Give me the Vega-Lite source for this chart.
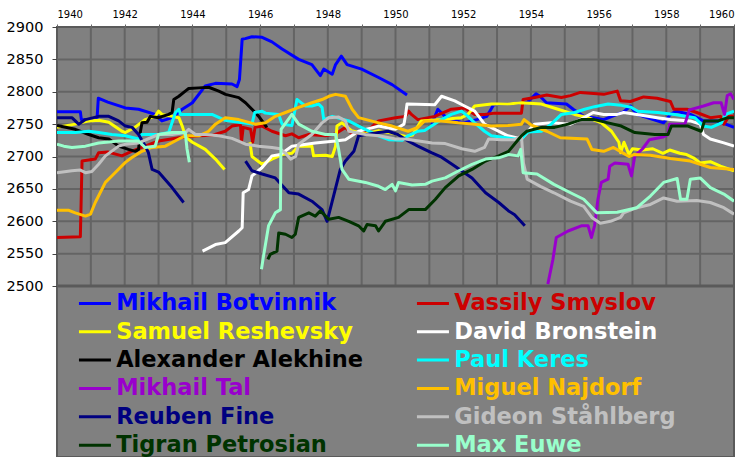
{
"$schema":"https://vega.github.io/schema/vega-lite/v6.json",
"width":677,"height":430,
"autosize":{"type":"pad"},
"padding":{"left":6,"top":9,"right":5,"bottom":0},
"background":"white",
"config":{"view":{"fill":"#808080","stroke":"#5a5a5a","strokeWidth":2},"font":"DejaVu Sans"},
"resolve":{"axis":{"x":"independent","y":"independent"}},
"layer":[
{"mark":{"type":"rect","color":"#808080","stroke":"#5a5a5a","strokeWidth":2},
 "encoding":{
  "x":{"datum":1940,"scale":{"domain":[1940,1960],"nice":false,"zero":false},"axis":null},"x2":{"datum":1960},
  "y":{"datum":2236,"scale":{"domain":[2236,2900],"nice":false,"zero":false},"axis":null},"y2":{"datum":2900}}},
{"data":{"values":[{"yr":1941},{"yr":1942},{"yr":1943},{"yr":1944},{"yr":1945},{"yr":1946},{"yr":1947},{"yr":1948},{"yr":1949},{"yr":1950},{"yr":1951},{"yr":1952},{"yr":1953},{"yr":1954},{"yr":1955},{"yr":1956},{"yr":1957},{"yr":1958},{"yr":1959}]},
 "mark":{"type":"rule","color":"#646464","strokeWidth":2},
 "encoding":{
  "x":{"field":"yr","type":"quantitative","axis":null},
  "y":{"datum":2500,"axis":null},
  "y2":{"datum":2900}}},
{"data":{"values":[{"g":2550},{"g":2600},{"g":2650},{"g":2700},{"g":2750},{"g":2800},{"g":2850}]},
 "mark":{"type":"rule","color":"#646464","strokeWidth":2},
 "encoding":{"y":{"field":"g","type":"quantitative","axis":null}}},
{"data":{"values":[{"v":2500}]},
 "mark":{"type":"rule","color":"#5a5a5a","strokeWidth":3},
 "encoding":{"y":{"field":"v","type":"quantitative","axis":null}}},
{"data":{"values":[
{"p":"Mikhail Botvinnik","s":1,"t":1940.0,"r":2769},{"p":"Mikhail Botvinnik","s":1,"t":1940.69,"r":2769},{"p":"Mikhail Botvinnik","s":1,"t":1940.72,"r":2757},{"p":"Mikhail Botvinnik","s":1,"t":1941.18,"r":2756},{"p":"Mikhail Botvinnik","s":1,"t":1941.22,"r":2790},{"p":"Mikhail Botvinnik","s":1,"t":1941.5,"r":2784},{"p":"Mikhail Botvinnik","s":1,"t":1942.02,"r":2775},{"p":"Mikhail Botvinnik","s":1,"t":1942.41,"r":2773},{"p":"Mikhail Botvinnik","s":1,"t":1942.9,"r":2765},{"p":"Mikhail Botvinnik","s":1,"t":1943.1,"r":2755},{"p":"Mikhail Botvinnik","s":1,"t":1943.4,"r":2760},{"p":"Mikhail Botvinnik","s":1,"t":1943.7,"r":2773},{"p":"Mikhail Botvinnik","s":1,"t":1944.0,"r":2783},{"p":"Mikhail Botvinnik","s":1,"t":1944.38,"r":2809},{"p":"Mikhail Botvinnik","s":1,"t":1944.68,"r":2813},{"p":"Mikhail Botvinnik","s":1,"t":1945.17,"r":2812},{"p":"Mikhail Botvinnik","s":1,"t":1945.32,"r":2808},{"p":"Mikhail Botvinnik","s":1,"t":1945.39,"r":2819},{"p":"Mikhail Botvinnik","s":1,"t":1945.47,"r":2881},{"p":"Mikhail Botvinnik","s":1,"t":1945.56,"r":2882},{"p":"Mikhail Botvinnik","s":1,"t":1945.76,"r":2885},{"p":"Mikhail Botvinnik","s":1,"t":1946.06,"r":2884},{"p":"Mikhail Botvinnik","s":1,"t":1946.35,"r":2877},{"p":"Mikhail Botvinnik","s":1,"t":1946.65,"r":2866},{"p":"Mikhail Botvinnik","s":1,"t":1947.14,"r":2850},{"p":"Mikhail Botvinnik","s":1,"t":1947.53,"r":2842},{"p":"Mikhail Botvinnik","s":1,"t":1947.78,"r":2825},{"p":"Mikhail Botvinnik","s":1,"t":1947.88,"r":2835},{"p":"Mikhail Botvinnik","s":1,"t":1948.13,"r":2827},{"p":"Mikhail Botvinnik","s":1,"t":1948.23,"r":2842},{"p":"Mikhail Botvinnik","s":1,"t":1948.4,"r":2855},{"p":"Mikhail Botvinnik","s":1,"t":1948.57,"r":2842},{"p":"Mikhail Botvinnik","s":1,"t":1949.0,"r":2835},{"p":"Mikhail Botvinnik","s":1,"t":1949.5,"r":2822},{"p":"Mikhail Botvinnik","s":1,"t":1949.9,"r":2811},{"p":"Mikhail Botvinnik","s":1,"t":1950.34,"r":2795},
{"p":"Mikhail Botvinnik","s":2,"t":1951.07,"r":2750},{"p":"Mikhail Botvinnik","s":2,"t":1951.25,"r":2773},{"p":"Mikhail Botvinnik","s":2,"t":1951.5,"r":2760},{"p":"Mikhail Botvinnik","s":2,"t":1952.0,"r":2752},{"p":"Mikhail Botvinnik","s":2,"t":1952.4,"r":2757},{"p":"Mikhail Botvinnik","s":2,"t":1952.7,"r":2762},{"p":"Mikhail Botvinnik","s":2,"t":1952.9,"r":2780},{"p":"Mikhail Botvinnik","s":2,"t":1953.5,"r":2782},{"p":"Mikhail Botvinnik","s":2,"t":1953.9,"r":2784},{"p":"Mikhail Botvinnik","s":2,"t":1954.15,"r":2797},{"p":"Mikhail Botvinnik","s":2,"t":1954.27,"r":2793},{"p":"Mikhail Botvinnik","s":2,"t":1954.46,"r":2783},{"p":"Mikhail Botvinnik","s":2,"t":1955.05,"r":2781},{"p":"Mikhail Botvinnik","s":2,"t":1955.25,"r":2773},{"p":"Mikhail Botvinnik","s":2,"t":1955.59,"r":2761},{"p":"Mikhail Botvinnik","s":2,"t":1955.84,"r":2760},{"p":"Mikhail Botvinnik","s":2,"t":1956.15,"r":2757},{"p":"Mikhail Botvinnik","s":2,"t":1956.74,"r":2769},{"p":"Mikhail Botvinnik","s":2,"t":1956.94,"r":2778},{"p":"Mikhail Botvinnik","s":2,"t":1957.13,"r":2765},{"p":"Mikhail Botvinnik","s":2,"t":1957.92,"r":2752},{"p":"Mikhail Botvinnik","s":2,"t":1958.12,"r":2765},{"p":"Mikhail Botvinnik","s":2,"t":1958.3,"r":2770},{"p":"Mikhail Botvinnik","s":2,"t":1958.71,"r":2765},{"p":"Mikhail Botvinnik","s":2,"t":1959.1,"r":2755},{"p":"Mikhail Botvinnik","s":2,"t":1959.5,"r":2755},{"p":"Mikhail Botvinnik","s":2,"t":1960.0,"r":2745},
{"p":"Vassily Smyslov","s":1,"t":1940.0,"r":2575},{"p":"Vassily Smyslov","s":1,"t":1940.69,"r":2576},{"p":"Vassily Smyslov","s":1,"t":1940.74,"r":2693},{"p":"Vassily Smyslov","s":1,"t":1941.13,"r":2696},{"p":"Vassily Smyslov","s":1,"t":1941.23,"r":2706},{"p":"Vassily Smyslov","s":1,"t":1941.5,"r":2707},{"p":"Vassily Smyslov","s":1,"t":1941.92,"r":2701},{"p":"Vassily Smyslov","s":1,"t":1942.2,"r":2708},{"p":"Vassily Smyslov","s":1,"t":1942.6,"r":2716},{"p":"Vassily Smyslov","s":1,"t":1943.0,"r":2724},{"p":"Vassily Smyslov","s":1,"t":1943.6,"r":2729},{"p":"Vassily Smyslov","s":1,"t":1944.2,"r":2732},{"p":"Vassily Smyslov","s":1,"t":1944.6,"r":2733},{"p":"Vassily Smyslov","s":1,"t":1944.97,"r":2739},{"p":"Vassily Smyslov","s":1,"t":1945.17,"r":2747},{"p":"Vassily Smyslov","s":1,"t":1945.42,"r":2749},{"p":"Vassily Smyslov","s":1,"t":1945.45,"r":2722},{"p":"Vassily Smyslov","s":1,"t":1945.5,"r":2745},{"p":"Vassily Smyslov","s":1,"t":1945.72,"r":2742},{"p":"Vassily Smyslov","s":1,"t":1945.78,"r":2722},{"p":"Vassily Smyslov","s":1,"t":1945.85,"r":2745},{"p":"Vassily Smyslov","s":1,"t":1946.06,"r":2747},{"p":"Vassily Smyslov","s":1,"t":1946.35,"r":2739},{"p":"Vassily Smyslov","s":1,"t":1946.75,"r":2732},{"p":"Vassily Smyslov","s":1,"t":1946.94,"r":2735},{"p":"Vassily Smyslov","s":1,"t":1947.14,"r":2729},{"p":"Vassily Smyslov","s":1,"t":1947.44,"r":2734},{"p":"Vassily Smyslov","s":1,"t":1947.93,"r":2732},{"p":"Vassily Smyslov","s":1,"t":1948.23,"r":2735},{"p":"Vassily Smyslov","s":1,"t":1948.52,"r":2745},{"p":"Vassily Smyslov","s":1,"t":1948.72,"r":2735},{"p":"Vassily Smyslov","s":1,"t":1949.11,"r":2737},{"p":"Vassily Smyslov","s":1,"t":1949.5,"r":2755},{"p":"Vassily Smyslov","s":1,"t":1950.0,"r":2760},{"p":"Vassily Smyslov","s":1,"t":1950.29,"r":2762},{"p":"Vassily Smyslov","s":1,"t":1950.39,"r":2770},{"p":"Vassily Smyslov","s":1,"t":1950.47,"r":2765},{"p":"Vassily Smyslov","s":1,"t":1950.66,"r":2757},{"p":"Vassily Smyslov","s":1,"t":1951.16,"r":2762},{"p":"Vassily Smyslov","s":1,"t":1951.65,"r":2773},{"p":"Vassily Smyslov","s":1,"t":1952.04,"r":2775},{"p":"Vassily Smyslov","s":1,"t":1952.34,"r":2765},{"p":"Vassily Smyslov","s":1,"t":1952.63,"r":2765},{"p":"Vassily Smyslov","s":1,"t":1952.93,"r":2767},{"p":"Vassily Smyslov","s":1,"t":1953.72,"r":2767},{"p":"Vassily Smyslov","s":1,"t":1953.77,"r":2788},{"p":"Vassily Smyslov","s":1,"t":1954.11,"r":2791},{"p":"Vassily Smyslov","s":1,"t":1954.47,"r":2795},{"p":"Vassily Smyslov","s":1,"t":1954.9,"r":2791},{"p":"Vassily Smyslov","s":1,"t":1955.17,"r":2794},{"p":"Vassily Smyslov","s":1,"t":1955.46,"r":2799},{"p":"Vassily Smyslov","s":1,"t":1956.15,"r":2796},{"p":"Vassily Smyslov","s":1,"t":1956.55,"r":2801},{"p":"Vassily Smyslov","s":1,"t":1956.65,"r":2786},{"p":"Vassily Smyslov","s":1,"t":1956.94,"r":2785},{"p":"Vassily Smyslov","s":1,"t":1957.33,"r":2792},{"p":"Vassily Smyslov","s":1,"t":1957.73,"r":2790},{"p":"Vassily Smyslov","s":1,"t":1958.12,"r":2785},{"p":"Vassily Smyslov","s":1,"t":1958.22,"r":2773},{"p":"Vassily Smyslov","s":1,"t":1958.61,"r":2773},{"p":"Vassily Smyslov","s":1,"t":1958.9,"r":2768},{"p":"Vassily Smyslov","s":1,"t":1959.3,"r":2760},{"p":"Vassily Smyslov","s":1,"t":1959.6,"r":2762},{"p":"Vassily Smyslov","s":1,"t":1959.7,"r":2750},{"p":"Vassily Smyslov","s":1,"t":1959.85,"r":2762},{"p":"Vassily Smyslov","s":1,"t":1960.0,"r":2762},
{"p":"Samuel Reshevsky","s":1,"t":1940.0,"r":2745},{"p":"Samuel Reshevsky","s":1,"t":1940.54,"r":2750},{"p":"Samuel Reshevsky","s":1,"t":1940.94,"r":2755},{"p":"Samuel Reshevsky","s":1,"t":1941.23,"r":2756},{"p":"Samuel Reshevsky","s":1,"t":1941.53,"r":2753},{"p":"Samuel Reshevsky","s":1,"t":1941.92,"r":2739},{"p":"Samuel Reshevsky","s":1,"t":1942.02,"r":2737},{"p":"Samuel Reshevsky","s":1,"t":1942.3,"r":2745},{"p":"Samuel Reshevsky","s":1,"t":1942.6,"r":2757},{"p":"Samuel Reshevsky","s":1,"t":1942.9,"r":2762},{"p":"Samuel Reshevsky","s":1,"t":1943.0,"r":2770},{"p":"Samuel Reshevsky","s":1,"t":1943.1,"r":2765},{"p":"Samuel Reshevsky","s":1,"t":1943.4,"r":2762},{"p":"Samuel Reshevsky","s":1,"t":1943.6,"r":2760},{"p":"Samuel Reshevsky","s":1,"t":1943.7,"r":2747},{"p":"Samuel Reshevsky","s":1,"t":1943.8,"r":2730},{"p":"Samuel Reshevsky","s":1,"t":1944.0,"r":2722},{"p":"Samuel Reshevsky","s":1,"t":1944.38,"r":2711},{"p":"Samuel Reshevsky","s":1,"t":1944.68,"r":2696},{"p":"Samuel Reshevsky","s":1,"t":1944.95,"r":2680},
{"p":"Samuel Reshevsky","s":2,"t":1945.7,"r":2722},{"p":"Samuel Reshevsky","s":2,"t":1945.76,"r":2700},{"p":"Samuel Reshevsky","s":2,"t":1946.06,"r":2688},{"p":"Samuel Reshevsky","s":2,"t":1946.35,"r":2696},{"p":"Samuel Reshevsky","s":2,"t":1946.65,"r":2703},{"p":"Samuel Reshevsky","s":2,"t":1946.94,"r":2705},{"p":"Samuel Reshevsky","s":2,"t":1947.14,"r":2716},{"p":"Samuel Reshevsky","s":2,"t":1947.53,"r":2716},{"p":"Samuel Reshevsky","s":2,"t":1947.58,"r":2701},{"p":"Samuel Reshevsky","s":2,"t":1947.93,"r":2702},{"p":"Samuel Reshevsky","s":2,"t":1948.13,"r":2700},{"p":"Samuel Reshevsky","s":2,"t":1948.23,"r":2716},{"p":"Samuel Reshevsky","s":2,"t":1948.27,"r":2747},{"p":"Samuel Reshevsky","s":2,"t":1948.42,"r":2752},{"p":"Samuel Reshevsky","s":2,"t":1948.7,"r":2740},{"p":"Samuel Reshevsky","s":2,"t":1949.1,"r":2735},{"p":"Samuel Reshevsky","s":2,"t":1949.5,"r":2740},{"p":"Samuel Reshevsky","s":2,"t":1950.0,"r":2735},{"p":"Samuel Reshevsky","s":2,"t":1950.3,"r":2731},{"p":"Samuel Reshevsky","s":2,"t":1950.5,"r":2733},{"p":"Samuel Reshevsky","s":2,"t":1950.76,"r":2755},{"p":"Samuel Reshevsky","s":2,"t":1951.36,"r":2757},{"p":"Samuel Reshevsky","s":2,"t":1951.95,"r":2760},{"p":"Samuel Reshevsky","s":2,"t":1952.14,"r":2765},{"p":"Samuel Reshevsky","s":2,"t":1952.34,"r":2778},{"p":"Samuel Reshevsky","s":2,"t":1952.83,"r":2781},{"p":"Samuel Reshevsky","s":2,"t":1953.32,"r":2781},{"p":"Samuel Reshevsky","s":2,"t":1953.72,"r":2783},{"p":"Samuel Reshevsky","s":2,"t":1954.31,"r":2781},{"p":"Samuel Reshevsky","s":2,"t":1954.8,"r":2773},{"p":"Samuel Reshevsky","s":2,"t":1955.29,"r":2765},{"p":"Samuel Reshevsky","s":2,"t":1955.69,"r":2760},{"p":"Samuel Reshevsky","s":2,"t":1956.08,"r":2752},{"p":"Samuel Reshevsky","s":2,"t":1956.38,"r":2739},{"p":"Samuel Reshevsky","s":2,"t":1956.6,"r":2722},{"p":"Samuel Reshevsky","s":2,"t":1956.65,"r":2706},{"p":"Samuel Reshevsky","s":2,"t":1956.75,"r":2722},{"p":"Samuel Reshevsky","s":2,"t":1956.9,"r":2703},{"p":"Samuel Reshevsky","s":2,"t":1957.0,"r":2712},{"p":"Samuel Reshevsky","s":2,"t":1957.3,"r":2710},{"p":"Samuel Reshevsky","s":2,"t":1957.6,"r":2712},{"p":"Samuel Reshevsky","s":2,"t":1957.9,"r":2705},{"p":"Samuel Reshevsky","s":2,"t":1958.1,"r":2710},{"p":"Samuel Reshevsky","s":2,"t":1958.4,"r":2705},{"p":"Samuel Reshevsky","s":2,"t":1958.6,"r":2703},{"p":"Samuel Reshevsky","s":2,"t":1958.8,"r":2698},{"p":"Samuel Reshevsky","s":2,"t":1959.0,"r":2690},{"p":"Samuel Reshevsky","s":2,"t":1959.3,"r":2692},{"p":"Samuel Reshevsky","s":2,"t":1959.6,"r":2685},{"p":"Samuel Reshevsky","s":2,"t":1960.0,"r":2678},
{"p":"David Bronstein","s":1,"t":1944.3,"r":2554},{"p":"David Bronstein","s":1,"t":1944.68,"r":2564},{"p":"David Bronstein","s":1,"t":1944.97,"r":2567},{"p":"David Bronstein","s":1,"t":1945.37,"r":2585},{"p":"David Bronstein","s":1,"t":1945.47,"r":2590},{"p":"David Bronstein","s":1,"t":1945.5,"r":2644},{"p":"David Bronstein","s":1,"t":1945.66,"r":2649},{"p":"David Bronstein","s":1,"t":1945.76,"r":2670},{"p":"David Bronstein","s":1,"t":1946.06,"r":2683},{"p":"David Bronstein","s":1,"t":1946.35,"r":2701},{"p":"David Bronstein","s":1,"t":1946.6,"r":2703},{"p":"David Bronstein","s":1,"t":1946.94,"r":2716},{"p":"David Bronstein","s":1,"t":1947.63,"r":2721},{"p":"David Bronstein","s":1,"t":1948.23,"r":2724},{"p":"David Bronstein","s":1,"t":1948.52,"r":2726},{"p":"David Bronstein","s":1,"t":1948.91,"r":2739},{"p":"David Bronstein","s":1,"t":1949.5,"r":2747},{"p":"David Bronstein","s":1,"t":1950.0,"r":2742},{"p":"David Bronstein","s":1,"t":1950.25,"r":2750},{"p":"David Bronstein","s":1,"t":1950.3,"r":2765},{"p":"David Bronstein","s":1,"t":1950.34,"r":2781},{"p":"David Bronstein","s":1,"t":1951.16,"r":2780},{"p":"David Bronstein","s":1,"t":1951.36,"r":2793},{"p":"David Bronstein","s":1,"t":1951.75,"r":2786},{"p":"David Bronstein","s":1,"t":1952.04,"r":2778},{"p":"David Bronstein","s":1,"t":1952.34,"r":2770},{"p":"David Bronstein","s":1,"t":1952.63,"r":2750},{"p":"David Bronstein","s":1,"t":1953.32,"r":2732},{"p":"David Bronstein","s":1,"t":1953.72,"r":2727},{"p":"David Bronstein","s":1,"t":1953.9,"r":2738},{"p":"David Bronstein","s":1,"t":1954.1,"r":2750},{"p":"David Bronstein","s":1,"t":1954.6,"r":2752},{"p":"David Bronstein","s":1,"t":1955.17,"r":2750},{"p":"David Bronstein","s":1,"t":1955.46,"r":2757},{"p":"David Bronstein","s":1,"t":1955.84,"r":2768},{"p":"David Bronstein","s":1,"t":1956.15,"r":2765},{"p":"David Bronstein","s":1,"t":1956.55,"r":2765},{"p":"David Bronstein","s":1,"t":1956.74,"r":2768},{"p":"David Bronstein","s":1,"t":1957.13,"r":2765},{"p":"David Bronstein","s":1,"t":1957.73,"r":2760},{"p":"David Bronstein","s":1,"t":1958.12,"r":2757},{"p":"David Bronstein","s":1,"t":1958.71,"r":2755},{"p":"David Bronstein","s":1,"t":1959.0,"r":2750},{"p":"David Bronstein","s":1,"t":1959.1,"r":2734},{"p":"David Bronstein","s":1,"t":1959.3,"r":2727},{"p":"David Bronstein","s":1,"t":1959.7,"r":2721},{"p":"David Bronstein","s":1,"t":1960.0,"r":2716},
{"p":"Alexander Alekhine","s":1,"t":1940.0,"r":2748},{"p":"Alexander Alekhine","s":1,"t":1940.54,"r":2742},{"p":"Alexander Alekhine","s":1,"t":1940.94,"r":2734},{"p":"Alexander Alekhine","s":1,"t":1941.23,"r":2729},{"p":"Alexander Alekhine","s":1,"t":1941.53,"r":2727},{"p":"Alexander Alekhine","s":1,"t":1941.82,"r":2716},{"p":"Alexander Alekhine","s":1,"t":1942.11,"r":2711},{"p":"Alexander Alekhine","s":1,"t":1942.31,"r":2708},{"p":"Alexander Alekhine","s":1,"t":1942.41,"r":2711},{"p":"Alexander Alekhine","s":1,"t":1942.46,"r":2737},{"p":"Alexander Alekhine","s":1,"t":1942.51,"r":2752},{"p":"Alexander Alekhine","s":1,"t":1942.66,"r":2753},{"p":"Alexander Alekhine","s":1,"t":1942.76,"r":2762},{"p":"Alexander Alekhine","s":1,"t":1943.0,"r":2760},{"p":"Alexander Alekhine","s":1,"t":1943.3,"r":2765},{"p":"Alexander Alekhine","s":1,"t":1943.4,"r":2768},{"p":"Alexander Alekhine","s":1,"t":1943.45,"r":2788},{"p":"Alexander Alekhine","s":1,"t":1943.6,"r":2793},{"p":"Alexander Alekhine","s":1,"t":1943.79,"r":2801},{"p":"Alexander Alekhine","s":1,"t":1943.89,"r":2805},{"p":"Alexander Alekhine","s":1,"t":1944.19,"r":2806},{"p":"Alexander Alekhine","s":1,"t":1944.48,"r":2807},{"p":"Alexander Alekhine","s":1,"t":1944.78,"r":2801},{"p":"Alexander Alekhine","s":1,"t":1944.98,"r":2796},{"p":"Alexander Alekhine","s":1,"t":1945.37,"r":2791},{"p":"Alexander Alekhine","s":1,"t":1945.57,"r":2783},{"p":"Alexander Alekhine","s":1,"t":1945.76,"r":2773},{"p":"Alexander Alekhine","s":1,"t":1945.96,"r":2762},{"p":"Alexander Alekhine","s":1,"t":1946.2,"r":2745},
{"p":"Paul Keres","s":1,"t":1940.0,"r":2737},{"p":"Paul Keres","s":1,"t":1940.54,"r":2737},{"p":"Paul Keres","s":1,"t":1940.94,"r":2739},{"p":"Paul Keres","s":1,"t":1941.23,"r":2737},{"p":"Paul Keres","s":1,"t":1941.62,"r":2734},{"p":"Paul Keres","s":1,"t":1942.02,"r":2732},{"p":"Paul Keres","s":1,"t":1942.41,"r":2727},{"p":"Paul Keres","s":1,"t":1942.5,"r":2734},{"p":"Paul Keres","s":1,"t":1943.0,"r":2734},{"p":"Paul Keres","s":1,"t":1943.3,"r":2737},{"p":"Paul Keres","s":1,"t":1943.5,"r":2768},{"p":"Paul Keres","s":1,"t":1943.6,"r":2773},{"p":"Paul Keres","s":1,"t":1943.65,"r":2765},{"p":"Paul Keres","s":1,"t":1943.99,"r":2765},{"p":"Paul Keres","s":1,"t":1944.58,"r":2765},{"p":"Paul Keres","s":1,"t":1944.97,"r":2756},{"p":"Paul Keres","s":1,"t":1945.37,"r":2753},{"p":"Paul Keres","s":1,"t":1945.76,"r":2750},{"p":"Paul Keres","s":1,"t":1945.84,"r":2768},{"p":"Paul Keres","s":1,"t":1946.06,"r":2770},{"p":"Paul Keres","s":1,"t":1946.16,"r":2767},{"p":"Paul Keres","s":1,"t":1946.55,"r":2765},{"p":"Paul Keres","s":1,"t":1946.65,"r":2750},{"p":"Paul Keres","s":1,"t":1946.94,"r":2748},{"p":"Paul Keres","s":1,"t":1947.09,"r":2788},{"p":"Paul Keres","s":1,"t":1947.19,"r":2784},{"p":"Paul Keres","s":1,"t":1947.34,"r":2778},{"p":"Paul Keres","s":1,"t":1947.53,"r":2778},{"p":"Paul Keres","s":1,"t":1947.73,"r":2781},{"p":"Paul Keres","s":1,"t":1947.83,"r":2776},{"p":"Paul Keres","s":1,"t":1947.88,"r":2757},{"p":"Paul Keres","s":1,"t":1948.13,"r":2762},{"p":"Paul Keres","s":1,"t":1948.62,"r":2755},{"p":"Paul Keres","s":1,"t":1948.91,"r":2747},{"p":"Paul Keres","s":1,"t":1949.5,"r":2732},{"p":"Paul Keres","s":1,"t":1949.8,"r":2726},{"p":"Paul Keres","s":1,"t":1950.2,"r":2725},{"p":"Paul Keres","s":1,"t":1950.37,"r":2732},{"p":"Paul Keres","s":1,"t":1950.66,"r":2739},{"p":"Paul Keres","s":1,"t":1950.86,"r":2740},{"p":"Paul Keres","s":1,"t":1951.36,"r":2757},{"p":"Paul Keres","s":1,"t":1951.65,"r":2765},{"p":"Paul Keres","s":1,"t":1951.95,"r":2770},{"p":"Paul Keres","s":1,"t":1952.14,"r":2762},{"p":"Paul Keres","s":1,"t":1952.34,"r":2752},{"p":"Paul Keres","s":1,"t":1952.63,"r":2739},{"p":"Paul Keres","s":1,"t":1952.83,"r":2732},{"p":"Paul Keres","s":1,"t":1953.52,"r":2727},{"p":"Paul Keres","s":1,"t":1953.72,"r":2727},{"p":"Paul Keres","s":1,"t":1953.91,"r":2738},{"p":"Paul Keres","s":1,"t":1954.31,"r":2739},{"p":"Paul Keres","s":1,"t":1954.6,"r":2750},{"p":"Paul Keres","s":1,"t":1954.9,"r":2765},{"p":"Paul Keres","s":1,"t":1955.29,"r":2768},{"p":"Paul Keres","s":1,"t":1955.59,"r":2773},{"p":"Paul Keres","s":1,"t":1955.88,"r":2777},{"p":"Paul Keres","s":1,"t":1956.28,"r":2781},{"p":"Paul Keres","s":1,"t":1956.67,"r":2779},{"p":"Paul Keres","s":1,"t":1956.96,"r":2776},{"p":"Paul Keres","s":1,"t":1957.16,"r":2770},{"p":"Paul Keres","s":1,"t":1957.75,"r":2768},{"p":"Paul Keres","s":1,"t":1958.25,"r":2765},{"p":"Paul Keres","s":1,"t":1958.84,"r":2760},{"p":"Paul Keres","s":1,"t":1959.09,"r":2747},{"p":"Paul Keres","s":1,"t":1959.33,"r":2745},{"p":"Paul Keres","s":1,"t":1959.63,"r":2752},{"p":"Paul Keres","s":1,"t":1959.75,"r":2765},{"p":"Paul Keres","s":1,"t":1960.0,"r":2770},
{"p":"Mikhail Tal","s":1,"t":1954.5,"r":2503},{"p":"Mikhail Tal","s":1,"t":1954.65,"r":2541},{"p":"Mikhail Tal","s":1,"t":1954.75,"r":2575},{"p":"Mikhail Tal","s":1,"t":1955.1,"r":2585},{"p":"Mikhail Tal","s":1,"t":1955.49,"r":2593},{"p":"Mikhail Tal","s":1,"t":1955.69,"r":2593},{"p":"Mikhail Tal","s":1,"t":1955.79,"r":2575},{"p":"Mikhail Tal","s":1,"t":1955.88,"r":2593},{"p":"Mikhail Tal","s":1,"t":1955.93,"r":2613},{"p":"Mikhail Tal","s":1,"t":1955.98,"r":2634},{"p":"Mikhail Tal","s":1,"t":1956.08,"r":2660},{"p":"Mikhail Tal","s":1,"t":1956.28,"r":2665},{"p":"Mikhail Tal","s":1,"t":1956.33,"r":2685},{"p":"Mikhail Tal","s":1,"t":1956.48,"r":2690},{"p":"Mikhail Tal","s":1,"t":1956.87,"r":2688},{"p":"Mikhail Tal","s":1,"t":1956.97,"r":2670},{"p":"Mikhail Tal","s":1,"t":1957.07,"r":2701},{"p":"Mikhail Tal","s":1,"t":1957.3,"r":2712},{"p":"Mikhail Tal","s":1,"t":1957.5,"r":2726},{"p":"Mikhail Tal","s":1,"t":1957.9,"r":2730},{"p":"Mikhail Tal","s":1,"t":1958.05,"r":2734},{"p":"Mikhail Tal","s":1,"t":1958.1,"r":2750},{"p":"Mikhail Tal","s":1,"t":1958.55,"r":2750},{"p":"Mikhail Tal","s":1,"t":1958.68,"r":2772},{"p":"Mikhail Tal","s":1,"t":1959.1,"r":2778},{"p":"Mikhail Tal","s":1,"t":1959.4,"r":2783},{"p":"Mikhail Tal","s":1,"t":1959.62,"r":2783},{"p":"Mikhail Tal","s":1,"t":1959.72,"r":2765},{"p":"Mikhail Tal","s":1,"t":1959.8,"r":2794},{"p":"Mikhail Tal","s":1,"t":1959.9,"r":2797},{"p":"Mikhail Tal","s":1,"t":1960.0,"r":2788},
{"p":"Miguel Najdorf","s":1,"t":1940.0,"r":2617},{"p":"Miguel Najdorf","s":1,"t":1940.35,"r":2617},{"p":"Miguel Najdorf","s":1,"t":1940.54,"r":2613},{"p":"Miguel Najdorf","s":1,"t":1940.84,"r":2608},{"p":"Miguel Najdorf","s":1,"t":1940.99,"r":2611},{"p":"Miguel Najdorf","s":1,"t":1941.13,"r":2629},{"p":"Miguel Najdorf","s":1,"t":1941.43,"r":2660},{"p":"Miguel Najdorf","s":1,"t":1941.62,"r":2670},{"p":"Miguel Najdorf","s":1,"t":1942.02,"r":2691},{"p":"Miguel Najdorf","s":1,"t":1942.2,"r":2698},{"p":"Miguel Najdorf","s":1,"t":1942.51,"r":2708},{"p":"Miguel Najdorf","s":1,"t":1942.8,"r":2714},{"p":"Miguel Najdorf","s":1,"t":1943.2,"r":2716},{"p":"Miguel Najdorf","s":1,"t":1943.6,"r":2727},{"p":"Miguel Najdorf","s":1,"t":1943.79,"r":2732},{"p":"Miguel Najdorf","s":1,"t":1944.19,"r":2732},{"p":"Miguel Najdorf","s":1,"t":1944.48,"r":2739},{"p":"Miguel Najdorf","s":1,"t":1944.68,"r":2750},{"p":"Miguel Najdorf","s":1,"t":1944.97,"r":2760},{"p":"Miguel Najdorf","s":1,"t":1945.37,"r":2757},{"p":"Miguel Najdorf","s":1,"t":1945.86,"r":2750},{"p":"Miguel Najdorf","s":1,"t":1946.16,"r":2752},{"p":"Miguel Najdorf","s":1,"t":1946.45,"r":2762},{"p":"Miguel Najdorf","s":1,"t":1946.75,"r":2768},{"p":"Miguel Najdorf","s":1,"t":1947.14,"r":2776},{"p":"Miguel Najdorf","s":1,"t":1947.53,"r":2783},{"p":"Miguel Najdorf","s":1,"t":1947.83,"r":2788},{"p":"Miguel Najdorf","s":1,"t":1948.03,"r":2793},{"p":"Miguel Najdorf","s":1,"t":1948.23,"r":2796},{"p":"Miguel Najdorf","s":1,"t":1948.52,"r":2793},{"p":"Miguel Najdorf","s":1,"t":1948.72,"r":2773},{"p":"Miguel Najdorf","s":1,"t":1948.91,"r":2760},{"p":"Miguel Najdorf","s":1,"t":1949.5,"r":2752},{"p":"Miguel Najdorf","s":1,"t":1949.9,"r":2747},{"p":"Miguel Najdorf","s":1,"t":1950.37,"r":2739},{"p":"Miguel Najdorf","s":1,"t":1950.66,"r":2745},{"p":"Miguel Najdorf","s":1,"t":1950.86,"r":2755},{"p":"Miguel Najdorf","s":1,"t":1951.36,"r":2755},{"p":"Miguel Najdorf","s":1,"t":1951.85,"r":2752},{"p":"Miguel Najdorf","s":1,"t":1952.34,"r":2750},{"p":"Miguel Najdorf","s":1,"t":1952.83,"r":2747},{"p":"Miguel Najdorf","s":1,"t":1953.32,"r":2748},{"p":"Miguel Najdorf","s":1,"t":1953.72,"r":2750},{"p":"Miguel Najdorf","s":1,"t":1953.8,"r":2757},{"p":"Miguel Najdorf","s":1,"t":1954.0,"r":2749},{"p":"Miguel Najdorf","s":1,"t":1954.47,"r":2739},{"p":"Miguel Najdorf","s":1,"t":1954.87,"r":2729},{"p":"Miguel Najdorf","s":1,"t":1955.66,"r":2727},{"p":"Miguel Najdorf","s":1,"t":1955.8,"r":2711},{"p":"Miguel Najdorf","s":1,"t":1956.15,"r":2708},{"p":"Miguel Najdorf","s":1,"t":1956.44,"r":2714},{"p":"Miguel Najdorf","s":1,"t":1956.7,"r":2706},{"p":"Miguel Najdorf","s":1,"t":1956.9,"r":2700},{"p":"Miguel Najdorf","s":1,"t":1957.04,"r":2703},{"p":"Miguel Najdorf","s":1,"t":1957.53,"r":2702},{"p":"Miguel Najdorf","s":1,"t":1958.12,"r":2697},{"p":"Miguel Najdorf","s":1,"t":1958.71,"r":2693},{"p":"Miguel Najdorf","s":1,"t":1959.0,"r":2688},{"p":"Miguel Najdorf","s":1,"t":1959.3,"r":2683},{"p":"Miguel Najdorf","s":1,"t":1960.0,"r":2680},
{"p":"Reuben Fine","s":1,"t":1940.0,"r":2760},{"p":"Reuben Fine","s":1,"t":1940.44,"r":2760},{"p":"Reuben Fine","s":1,"t":1940.64,"r":2750},{"p":"Reuben Fine","s":1,"t":1940.84,"r":2757},{"p":"Reuben Fine","s":1,"t":1941.23,"r":2762},{"p":"Reuben Fine","s":1,"t":1941.53,"r":2762},{"p":"Reuben Fine","s":1,"t":1941.82,"r":2755},{"p":"Reuben Fine","s":1,"t":1942.02,"r":2747},{"p":"Reuben Fine","s":1,"t":1942.22,"r":2745},{"p":"Reuben Fine","s":1,"t":1942.41,"r":2734},{"p":"Reuben Fine","s":1,"t":1942.61,"r":2716},{"p":"Reuben Fine","s":1,"t":1942.7,"r":2706},{"p":"Reuben Fine","s":1,"t":1942.81,"r":2680},{"p":"Reuben Fine","s":1,"t":1943.0,"r":2676},{"p":"Reuben Fine","s":1,"t":1943.4,"r":2652},{"p":"Reuben Fine","s":1,"t":1943.74,"r":2629},
{"p":"Reuben Fine","s":2,"t":1945.57,"r":2693},{"p":"Reuben Fine","s":2,"t":1945.76,"r":2678},{"p":"Reuben Fine","s":2,"t":1946.06,"r":2673},{"p":"Reuben Fine","s":2,"t":1946.45,"r":2667},{"p":"Reuben Fine","s":2,"t":1946.85,"r":2644},{"p":"Reuben Fine","s":2,"t":1947.14,"r":2642},{"p":"Reuben Fine","s":2,"t":1947.53,"r":2631},{"p":"Reuben Fine","s":2,"t":1947.83,"r":2618},{"p":"Reuben Fine","s":2,"t":1947.98,"r":2600},{"p":"Reuben Fine","s":2,"t":1948.37,"r":2680},{"p":"Reuben Fine","s":2,"t":1948.52,"r":2693},{"p":"Reuben Fine","s":2,"t":1948.77,"r":2708},{"p":"Reuben Fine","s":2,"t":1948.91,"r":2732},{"p":"Reuben Fine","s":2,"t":1949.5,"r":2737},{"p":"Reuben Fine","s":2,"t":1949.78,"r":2739},{"p":"Reuben Fine","s":2,"t":1950.07,"r":2734},{"p":"Reuben Fine","s":2,"t":1950.37,"r":2724},{"p":"Reuben Fine","s":2,"t":1950.66,"r":2716},{"p":"Reuben Fine","s":2,"t":1951.06,"r":2706},{"p":"Reuben Fine","s":2,"t":1951.36,"r":2699},{"p":"Reuben Fine","s":2,"t":1951.67,"r":2688},{"p":"Reuben Fine","s":2,"t":1952.26,"r":2667},{"p":"Reuben Fine","s":2,"t":1952.66,"r":2644},{"p":"Reuben Fine","s":2,"t":1953.05,"r":2629},{"p":"Reuben Fine","s":2,"t":1953.34,"r":2616},{"p":"Reuben Fine","s":2,"t":1953.52,"r":2610},{"p":"Reuben Fine","s":2,"t":1953.82,"r":2593},
{"p":"Gideon Ståhlberg","s":1,"t":1940.0,"r":2675},{"p":"Gideon Ståhlberg","s":1,"t":1940.44,"r":2678},{"p":"Gideon Ståhlberg","s":1,"t":1940.69,"r":2679},{"p":"Gideon Ståhlberg","s":1,"t":1940.84,"r":2675},{"p":"Gideon Ståhlberg","s":1,"t":1941.03,"r":2677},{"p":"Gideon Ståhlberg","s":1,"t":1941.23,"r":2688},{"p":"Gideon Ståhlberg","s":1,"t":1941.43,"r":2701},{"p":"Gideon Ståhlberg","s":1,"t":1941.82,"r":2716},{"p":"Gideon Ståhlberg","s":1,"t":1942.02,"r":2719},{"p":"Gideon Ståhlberg","s":1,"t":1942.41,"r":2721},{"p":"Gideon Ståhlberg","s":1,"t":1943.0,"r":2734},{"p":"Gideon Ståhlberg","s":1,"t":1943.4,"r":2734},{"p":"Gideon Ståhlberg","s":1,"t":1943.79,"r":2737},{"p":"Gideon Ståhlberg","s":1,"t":1943.89,"r":2742},{"p":"Gideon Ståhlberg","s":1,"t":1944.09,"r":2734},{"p":"Gideon Ståhlberg","s":1,"t":1944.38,"r":2734},{"p":"Gideon Ståhlberg","s":1,"t":1944.78,"r":2732},{"p":"Gideon Ståhlberg","s":1,"t":1945.17,"r":2728},{"p":"Gideon Ståhlberg","s":1,"t":1945.57,"r":2719},{"p":"Gideon Ståhlberg","s":1,"t":1945.96,"r":2716},{"p":"Gideon Ståhlberg","s":1,"t":1946.35,"r":2714},{"p":"Gideon Ståhlberg","s":1,"t":1946.6,"r":2712},{"p":"Gideon Ståhlberg","s":1,"t":1946.75,"r":2705},{"p":"Gideon Ståhlberg","s":1,"t":1946.9,"r":2696},{"p":"Gideon Ståhlberg","s":1,"t":1947.05,"r":2700},{"p":"Gideon Ståhlberg","s":1,"t":1947.14,"r":2719},{"p":"Gideon Ståhlberg","s":1,"t":1947.53,"r":2734},{"p":"Gideon Ståhlberg","s":1,"t":1947.83,"r":2752},{"p":"Gideon Ståhlberg","s":1,"t":1948.03,"r":2760},{"p":"Gideon Ståhlberg","s":1,"t":1948.32,"r":2761},{"p":"Gideon Ståhlberg","s":1,"t":1948.52,"r":2755},{"p":"Gideon Ståhlberg","s":1,"t":1948.62,"r":2739},{"p":"Gideon Ståhlberg","s":1,"t":1949.11,"r":2734},{"p":"Gideon Ståhlberg","s":1,"t":1949.5,"r":2732},{"p":"Gideon Ståhlberg","s":1,"t":1950.0,"r":2727},{"p":"Gideon Ståhlberg","s":1,"t":1950.29,"r":2727},{"p":"Gideon Ståhlberg","s":1,"t":1950.69,"r":2724},{"p":"Gideon Ståhlberg","s":1,"t":1951.08,"r":2721},{"p":"Gideon Ståhlberg","s":1,"t":1951.47,"r":2720},{"p":"Gideon Ståhlberg","s":1,"t":1951.96,"r":2712},{"p":"Gideon Ståhlberg","s":1,"t":1952.34,"r":2708},{"p":"Gideon Ståhlberg","s":1,"t":1952.63,"r":2714},{"p":"Gideon Ståhlberg","s":1,"t":1952.75,"r":2727},{"p":"Gideon Ståhlberg","s":1,"t":1953.13,"r":2726},{"p":"Gideon Ståhlberg","s":1,"t":1953.52,"r":2726},{"p":"Gideon Ståhlberg","s":1,"t":1953.72,"r":2732},{"p":"Gideon Ståhlberg","s":1,"t":1953.78,"r":2690},{"p":"Gideon Ståhlberg","s":1,"t":1953.89,"r":2665},{"p":"Gideon Ståhlberg","s":1,"t":1954.28,"r":2654},{"p":"Gideon Ståhlberg","s":1,"t":1954.68,"r":2644},{"p":"Gideon Ståhlberg","s":1,"t":1955.17,"r":2631},{"p":"Gideon Ståhlberg","s":1,"t":1955.56,"r":2623},{"p":"Gideon Ståhlberg","s":1,"t":1955.8,"r":2606},{"p":"Gideon Ståhlberg","s":1,"t":1956.05,"r":2597},{"p":"Gideon Ståhlberg","s":1,"t":1956.35,"r":2600},{"p":"Gideon Ståhlberg","s":1,"t":1956.65,"r":2606},{"p":"Gideon Ståhlberg","s":1,"t":1956.74,"r":2613},{"p":"Gideon Ståhlberg","s":1,"t":1957.13,"r":2621},{"p":"Gideon Ståhlberg","s":1,"t":1957.53,"r":2626},{"p":"Gideon Ståhlberg","s":1,"t":1957.92,"r":2636},{"p":"Gideon Ståhlberg","s":1,"t":1958.32,"r":2631},{"p":"Gideon Ståhlberg","s":1,"t":1958.9,"r":2632},{"p":"Gideon Ståhlberg","s":1,"t":1959.3,"r":2629},{"p":"Gideon Ståhlberg","s":1,"t":1959.7,"r":2621},{"p":"Gideon Ståhlberg","s":1,"t":1960.0,"r":2611},
{"p":"Tigran Petrosian","s":1,"t":1946.23,"r":2541},{"p":"Tigran Petrosian","s":1,"t":1946.3,"r":2549},{"p":"Tigran Petrosian","s":1,"t":1946.5,"r":2554},{"p":"Tigran Petrosian","s":1,"t":1946.55,"r":2582},{"p":"Tigran Petrosian","s":1,"t":1946.75,"r":2580},{"p":"Tigran Petrosian","s":1,"t":1946.94,"r":2575},{"p":"Tigran Petrosian","s":1,"t":1947.04,"r":2580},{"p":"Tigran Petrosian","s":1,"t":1947.14,"r":2606},{"p":"Tigran Petrosian","s":1,"t":1947.44,"r":2613},{"p":"Tigran Petrosian","s":1,"t":1947.63,"r":2608},{"p":"Tigran Petrosian","s":1,"t":1947.78,"r":2616},{"p":"Tigran Petrosian","s":1,"t":1948.03,"r":2603},{"p":"Tigran Petrosian","s":1,"t":1948.32,"r":2606},{"p":"Tigran Petrosian","s":1,"t":1948.62,"r":2600},{"p":"Tigran Petrosian","s":1,"t":1948.91,"r":2593},{"p":"Tigran Petrosian","s":1,"t":1949.06,"r":2585},{"p":"Tigran Petrosian","s":1,"t":1949.16,"r":2595},{"p":"Tigran Petrosian","s":1,"t":1949.41,"r":2593},{"p":"Tigran Petrosian","s":1,"t":1949.5,"r":2585},{"p":"Tigran Petrosian","s":1,"t":1949.7,"r":2600},{"p":"Tigran Petrosian","s":1,"t":1950.09,"r":2606},{"p":"Tigran Petrosian","s":1,"t":1950.39,"r":2618},{"p":"Tigran Petrosian","s":1,"t":1950.88,"r":2618},{"p":"Tigran Petrosian","s":1,"t":1951.18,"r":2634},{"p":"Tigran Petrosian","s":1,"t":1951.47,"r":2652},{"p":"Tigran Petrosian","s":1,"t":1951.87,"r":2670},{"p":"Tigran Petrosian","s":1,"t":1952.26,"r":2680},{"p":"Tigran Petrosian","s":1,"t":1952.66,"r":2693},{"p":"Tigran Petrosian","s":1,"t":1953.05,"r":2701},{"p":"Tigran Petrosian","s":1,"t":1953.34,"r":2708},{"p":"Tigran Petrosian","s":1,"t":1953.72,"r":2732},{"p":"Tigran Petrosian","s":1,"t":1953.88,"r":2739},{"p":"Tigran Petrosian","s":1,"t":1954.31,"r":2745},{"p":"Tigran Petrosian","s":1,"t":1954.7,"r":2745},{"p":"Tigran Petrosian","s":1,"t":1955.1,"r":2750},{"p":"Tigran Petrosian","s":1,"t":1955.49,"r":2757},{"p":"Tigran Petrosian","s":1,"t":1955.88,"r":2757},{"p":"Tigran Petrosian","s":1,"t":1956.28,"r":2752},{"p":"Tigran Petrosian","s":1,"t":1956.67,"r":2747},{"p":"Tigran Petrosian","s":1,"t":1957.07,"r":2737},{"p":"Tigran Petrosian","s":1,"t":1957.66,"r":2734},{"p":"Tigran Petrosian","s":1,"t":1958.05,"r":2734},{"p":"Tigran Petrosian","s":1,"t":1958.15,"r":2747},{"p":"Tigran Petrosian","s":1,"t":1958.64,"r":2747},{"p":"Tigran Petrosian","s":1,"t":1959.03,"r":2739},{"p":"Tigran Petrosian","s":1,"t":1959.13,"r":2755},{"p":"Tigran Petrosian","s":1,"t":1959.53,"r":2755},{"p":"Tigran Petrosian","s":1,"t":1959.82,"r":2760},{"p":"Tigran Petrosian","s":1,"t":1960.0,"r":2760},
{"p":"Max Euwe","s":1,"t":1940.0,"r":2719},{"p":"Max Euwe","s":1,"t":1940.2,"r":2716},{"p":"Max Euwe","s":1,"t":1940.44,"r":2714},{"p":"Max Euwe","s":1,"t":1940.84,"r":2716},{"p":"Max Euwe","s":1,"t":1941.23,"r":2721},{"p":"Max Euwe","s":1,"t":1941.82,"r":2724},{"p":"Max Euwe","s":1,"t":1942.41,"r":2724},{"p":"Max Euwe","s":1,"t":1942.6,"r":2714},{"p":"Max Euwe","s":1,"t":1942.9,"r":2716},{"p":"Max Euwe","s":1,"t":1943.0,"r":2734},{"p":"Max Euwe","s":1,"t":1943.4,"r":2737},{"p":"Max Euwe","s":1,"t":1943.79,"r":2737},{"p":"Max Euwe","s":1,"t":1943.84,"r":2712},{"p":"Max Euwe","s":1,"t":1943.91,"r":2691},
{"p":"Max Euwe","s":2,"t":1946.04,"r":2526},{"p":"Max Euwe","s":2,"t":1946.1,"r":2546},{"p":"Max Euwe","s":2,"t":1946.25,"r":2593},{"p":"Max Euwe","s":2,"t":1946.45,"r":2613},{"p":"Max Euwe","s":2,"t":1946.6,"r":2618},{"p":"Max Euwe","s":2,"t":1946.62,"r":2742},{"p":"Max Euwe","s":2,"t":1946.94,"r":2765},{"p":"Max Euwe","s":2,"t":1947.14,"r":2750},{"p":"Max Euwe","s":2,"t":1947.53,"r":2739},{"p":"Max Euwe","s":2,"t":1947.93,"r":2734},{"p":"Max Euwe","s":2,"t":1948.23,"r":2734},{"p":"Max Euwe","s":2,"t":1948.32,"r":2711},{"p":"Max Euwe","s":2,"t":1948.42,"r":2680},{"p":"Max Euwe","s":2,"t":1948.62,"r":2665},{"p":"Max Euwe","s":2,"t":1949.11,"r":2660},{"p":"Max Euwe","s":2,"t":1949.5,"r":2654},{"p":"Max Euwe","s":2,"t":1949.7,"r":2649},{"p":"Max Euwe","s":2,"t":1949.9,"r":2657},{"p":"Max Euwe","s":2,"t":1950.0,"r":2647},{"p":"Max Euwe","s":2,"t":1950.09,"r":2660},{"p":"Max Euwe","s":2,"t":1950.49,"r":2656},{"p":"Max Euwe","s":2,"t":1950.88,"r":2657},{"p":"Max Euwe","s":2,"t":1951.08,"r":2662},{"p":"Max Euwe","s":2,"t":1951.47,"r":2667},{"p":"Max Euwe","s":2,"t":1951.87,"r":2678},{"p":"Max Euwe","s":2,"t":1952.26,"r":2688},{"p":"Max Euwe","s":2,"t":1952.66,"r":2696},{"p":"Max Euwe","s":2,"t":1953.05,"r":2698},{"p":"Max Euwe","s":2,"t":1953.34,"r":2703},{"p":"Max Euwe","s":2,"t":1953.62,"r":2701},{"p":"Max Euwe","s":2,"t":1953.7,"r":2711},{"p":"Max Euwe","s":2,"t":1953.77,"r":2675},{"p":"Max Euwe","s":2,"t":1954.18,"r":2673},{"p":"Max Euwe","s":2,"t":1954.68,"r":2657},{"p":"Max Euwe","s":2,"t":1955.17,"r":2644},{"p":"Max Euwe","s":2,"t":1955.56,"r":2634},{"p":"Max Euwe","s":2,"t":1955.95,"r":2613},{"p":"Max Euwe","s":2,"t":1956.55,"r":2614},{"p":"Max Euwe","s":2,"t":1957.13,"r":2621},{"p":"Max Euwe","s":2,"t":1957.53,"r":2639},{"p":"Max Euwe","s":2,"t":1957.92,"r":2660},{"p":"Max Euwe","s":2,"t":1958.32,"r":2666},{"p":"Max Euwe","s":2,"t":1958.42,"r":2634},{"p":"Max Euwe","s":2,"t":1958.61,"r":2634},{"p":"Max Euwe","s":2,"t":1958.71,"r":2665},{"p":"Max Euwe","s":2,"t":1959.0,"r":2667},{"p":"Max Euwe","s":2,"t":1959.3,"r":2652},{"p":"Max Euwe","s":2,"t":1959.7,"r":2642},{"p":"Max Euwe","s":2,"t":1960.0,"r":2631}
]},
 "mark":{"type":"line","strokeWidth":3,"strokeJoin":"round","clip":true},
 "encoding":{
  "x":{"field":"t","type":"quantitative","axis":{"orient":"top","values":[1940,1941,1942,1943,1944,1945,1946,1947,1948,1949,1950,1951,1952,1953,1954,1955,1956,1957,1958,1959,1960],"format":"d","title":null,"grid":false,"domain":false,"tickSize":3,"tickColor":"#666666","labelFont":"DejaVu Sans","labelFontSize":10,"labelColor":"#000000","labelPadding":5}},
  "y":{"field":"r","type":"quantitative","axis":{"values":[2500,2550,2600,2650,2700,2750,2800,2850,2900],"format":"d","title":null,"grid":false,"domain":false,"tickSize":5,"tickColor":"#444444","labelFont":"DejaVu Sans","labelFontSize":14.5,"labelColor":"#000000","labelPadding":9}},
  "color":{"field":"p","type":"nominal","scale":{"domain":["Mikhail Botvinnik","Samuel Reshevsky","Alexander Alekhine","Mikhail Tal","Reuben Fine","Tigran Petrosian","Vassily Smyslov","David Bronstein","Paul Keres","Miguel Najdorf","Gideon Ståhlberg","Max Euwe"],"range":["#0000FF","#FFFF00","#000000","#9900CC","#000080","#003300","#CC0000","#FFFFFF","#00FFFF","#FFC000","#C0C0C0","#99FFCC"]},
   "legend":{"orient":"none","legendX":26.7,"legendY":265,"columns":2,"direction":"vertical","symbolType":"M-2,0H2","symbolSize":256,"symbolStrokeWidth":3,"labelFont":"DejaVu Sans","labelFontWeight":"bold","labelFontSize":22.5,"labelOffset":10,"rowPadding":5.4,"columnPadding":47,"labelLimit":500,"title":null,"padding":0,"encode":{"labels":{"update":{"fill":{"scale":"color","field":"value"}}}}}},
  "detail":{"field":"s","type":"nominal"}
 }}
]
}
